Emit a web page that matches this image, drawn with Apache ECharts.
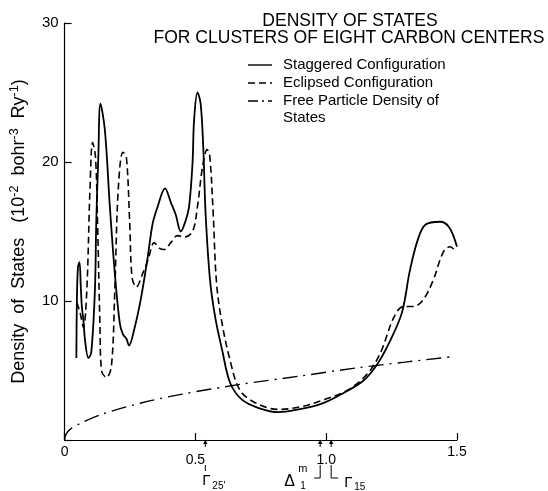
<!DOCTYPE html>
<html><head><meta charset="utf-8">
<script src="https://cdn.jsdelivr.net/npm/echarts@6/dist/echarts.min.js"></script>
<style>html,body{margin:0;padding:0;background:#fff}#c{width:548px;height:491px}</style>
</head><body><div id="c"></div>
<script>
// ---- data ----
const staggeredX = [0.045,0.047,0.051,0.057,0.062,0.066,0.072,0.078,0.091,0.102,0.116,0.121,0.129,0.137,0.154,0.173,0.192,0.211,0.223,0.236,0.246,0.268,0.293,0.318,0.337,0.356,0.384,0.406,0.425,0.444,0.463,0.476,0.489,0.495,0.508,0.52,0.53,0.539,0.556,0.576,0.602,0.633,0.678,0.742,0.818,0.894,0.981,1.068,1.144,1.197,1.246,1.29,1.32,1.35,1.38,1.435,1.47,1.5];
const staggeredY = [5.9,10.0,12.4,12.8,11.0,9.6,8.6,7.2,5.9,6.3,10.8,15.6,20.4,24.2,22.3,16.8,12.0,8.4,7.6,7.3,6.8,8.1,10.3,13.2,15.6,16.8,18.1,17.1,16.2,15.0,15.8,16.8,19.9,23.0,25.0,24.2,21.1,16.3,11.5,8.8,6.5,4.1,2.9,2.3,2.0,2.2,2.6,3.4,4.3,5.5,7.2,9.2,12.2,14.4,15.5,15.7,15.3,13.9];
const eclipsedX = [0.047,0.06,0.072,0.085,0.097,0.107,0.118,0.126,0.135,0.141,0.16,0.179,0.192,0.205,0.223,0.236,0.249,0.258,0.274,0.299,0.318,0.343,0.362,0.381,0.406,0.432,0.457,0.489,0.508,0.527,0.545,0.555,0.568,0.58,0.598,0.633,0.67,0.727,0.818,0.905,0.992,1.083,1.159,1.208,1.258,1.295,1.333,1.371,1.409,1.447,1.473,1.49];
const eclipsedY = [9.9,9.1,8.1,10.8,18.0,21.4,20.4,15.6,8.4,5.0,4.5,5.3,10.8,18.0,20.7,20.4,15.6,11.7,11.0,12.0,12.9,14.2,13.8,13.7,14.2,14.7,14.6,15.0,16.8,19.6,20.9,20.4,16.3,11.5,8.8,5.7,3.6,2.7,2.2,2.4,2.9,3.6,4.8,6.3,8.8,9.6,9.6,10.1,11.5,13.5,13.9,13.7];
const freeX = [0,0.005,0.02,0.06,0.15,0.3,0.45,0.67,0.9,1.12,1.3,1.485];
const freeY = [0,0.4,0.75,1.2,1.9,2.7,3.3,4.0,4.6,5.2,5.6,6.0];
const xTickValues = [0, 0.5, 1.0, 1.5];
const xTickLabels = ['0', '0.5', '1.0', '1.5'];
const yTickValues = [0, 10, 20, 30];
const yTickLabels = ['', '10', '20', '30'];
const seriesNames = ['Staggered Configuration', 'Eclipsed Configuration', 'Free Particle Density of\nStates'];
const titleLines = ['DENSITY OF STATES', 'FOR CLUSTERS OF EIGHT CARBON CENTERS'];
const markerX = [0.538, 0.977, 1.019]; // Γ25', Δ1m, Γ15

const zip = (xs, ys) => xs.map((x, i) => [x, ys[i]]);
const FONT = '"Liberation Sans", Arial, sans-serif';
const chart = echarts.init(document.getElementById('c'), null, {renderer: 'canvas'});

const lineBase = {type: 'line', symbol: 'none', smooth: 0.35, animation: false, z: 3};
chart.setOption({
  backgroundColor: '#fff',
  animation: false,
  grid: {left: 61, right: 91, top: 23, bottom: 51, containLabel: false},
  xAxis: {
    type: 'value', min: 0, max: 1.5, interval: 0.5,
    axisLine: {show: true, lineStyle: {color: '#000', width: 1.2}},
    axisTick: {show: true, inside: true, length: 7, lineStyle: {color: '#000', width: 1.2}},
    splitLine: {show: false},
    axisLabel: {
      color: '#000', fontFamily: FONT, fontSize: 14, margin: 5,
      formatter: v => {
        const i = xTickValues.findIndex(t => Math.abs(t - v) < 1e-6);
        const s = i >= 0 ? xTickLabels[i] : '';
        return (i === 1 || i === 2) ? '{lo|' + s + '}' : s;
      },
      rich: {lo: {fontFamily: FONT, fontSize: 14, color: '#000', padding: [8, 0, 0, 0]}}
    }
  },
  yAxis: {
    type: 'value', min: 0, max: 30, interval: 10,
    axisLine: {show: true, lineStyle: {color: '#000', width: 1.2}},
    axisTick: {show: true, inside: true, length: 7, lineStyle: {color: '#000', width: 1.2}},
    splitLine: {show: false},
    axisLabel: {
      color: '#000', fontFamily: FONT, fontSize: 15, margin: 6,
      formatter: v => { const i = yTickValues.indexOf(v); return i >= 0 ? yTickLabels[i] : ''; }
    },
    name: 'Density  of  States   (10{sup|-2}  bohr{sup|-3}  Ry{sup|-1})',
    nameLocation: 'middle', nameGap: 29, nameRotate: 90,
    nameTextStyle: {
      color: '#000', fontFamily: FONT, fontSize: 18, lineHeight: 23,
      rich: {sup: {fontFamily: FONT, fontSize: 12.5, color: '#000', verticalAlign: 'top', lineHeight: 23, padding: [0, 0, 9, 0]}}
    }
  },
  series: [
    Object.assign({}, lineBase, {name: seriesNames[0], data: zip(staggeredX, staggeredY), lineStyle: {color: '#000', width: 1.8, type: 'solid'}}),
    Object.assign({}, lineBase, {name: seriesNames[1], data: zip(eclipsedX, eclipsedY), lineStyle: {color: '#000', width: 1.6, type: [7, 4]}}),
    Object.assign({}, lineBase, {name: seriesNames[2], smooth: 0.3, data: zip(freeX, freeY), lineStyle: {color: '#000', width: 1.4, type: [15, 6, 2, 6]}})
  ]
});

function px(x, y) { return chart.convertToPixel({gridIndex: 0}, [x, y]); }
const y0 = px(0, 0)[1];
const g = [];
// title
g.push({type: 'text', z: 10, style: {text: titleLines[0], fill: '#000', font: '17.5px ' + FONT, textAlign: 'center', textVerticalAlign: 'middle'}, x: 350, y: 21.5});
g.push({type: 'text', z: 10, style: {text: titleLines[1], fill: '#000', font: '17.5px ' + FONT, textAlign: 'center', textVerticalAlign: 'middle'}, x: 349, y: 38.5});
// legend
const legY = [65, 83, 101];
const dashes = [null, [7, 4], [10, 4, 2, 4]];
for (let i = 0; i < 3; i++) {
  g.push({type: 'line', z: 10, shape: {x1: 248, y1: legY[i], x2: 272, y2: legY[i]}, style: {stroke: '#000', lineWidth: 1.4, lineDash: dashes[i]}});
  g.push({type: 'text', z: 10, style: {text: seriesNames[i], fill: '#000', font: '15px ' + FONT, textVerticalAlign: 'top', lineHeight: 17}, x: 283, y: legY[i] - 8.5});
}
// markers on the x axis
const mx = markerX.map(v => px(v, 0)[0]);
mx.forEach(x => {
  g.push({type: 'line', z: 10, shape: {x1: x, y1: y0 + 7, x2: x, y2: y0 + 2}, style: {stroke: '#000', lineWidth: 1}});
  g.push({type: 'polygon', z: 10, shape: {points: [[x, y0 - 0.5], [x - 2.2, y0 + 4], [x + 2.2, y0 + 4]]}, style: {fill: '#000'}});
});
// Γ25'
g.push({type: 'line', z: 10, shape: {x1: mx[0], y1: y0 + 25, x2: mx[0], y2: y0 + 31}, style: {stroke: '#000', lineWidth: 1}});
g.push({type: 'text', z: 10, x: mx[0] - 3, y: y0 + 33, style: {text: 'Γ', fill: '#000', font: '15px ' + FONT, textVerticalAlign: 'top'}});
g.push({type: 'text', z: 10, x: mx[0] + 7, y: y0 + 41, style: {text: "25'", fill: '#000', font: '10px ' + FONT, textVerticalAlign: 'top'}});
// Δ1m with bracket
g.push({type: 'polyline', z: 10, shape: {points: [[mx[1] - 6, y0 + 38], [mx[1], y0 + 38], [mx[1], y0 + 25]]}, style: {stroke: '#000', lineWidth: 1, fill: null}});
g.push({type: 'text', z: 10, x: mx[1] - 36, y: y0 + 34, style: {text: 'Δ', fill: '#000', font: '16px ' + FONT, textVerticalAlign: 'top'}});
g.push({type: 'text', z: 10, x: mx[1] - 22, y: y0 + 23, style: {text: 'm', fill: '#000', font: '11px ' + FONT, textVerticalAlign: 'top'}});
g.push({type: 'text', z: 10, x: mx[1] - 20, y: y0 + 41, style: {text: '1', fill: '#000', font: '10px ' + FONT, textVerticalAlign: 'top'}});
// Γ15 with bracket
g.push({type: 'polyline', z: 10, shape: {points: [[mx[2], y0 + 25], [mx[2], y0 + 38], [mx[2] + 7, y0 + 38]]}, style: {stroke: '#000', lineWidth: 1, fill: null}});
g.push({type: 'text', z: 10, x: mx[2] + 13, y: y0 + 35, style: {text: 'Γ', fill: '#000', font: '15px ' + FONT, textVerticalAlign: 'top'}});
g.push({type: 'text', z: 10, x: mx[2] + 23, y: y0 + 42, style: {text: '15', fill: '#000', font: '10px ' + FONT, textVerticalAlign: 'top'}});
chart.setOption({graphic: {elements: g}});
</script>
</body></html>
